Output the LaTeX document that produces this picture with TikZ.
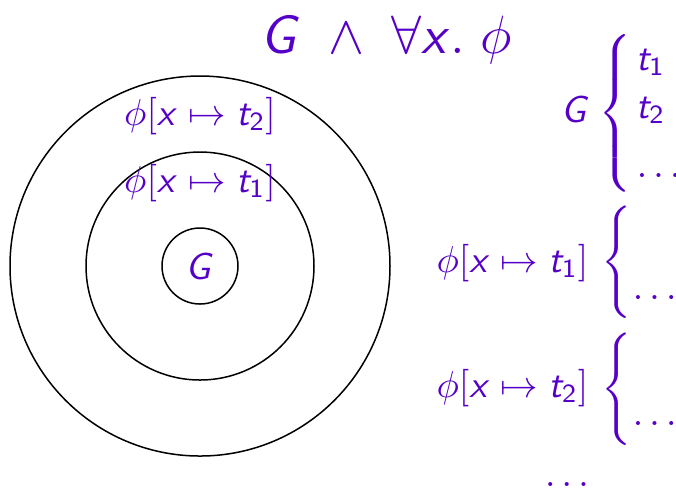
\documentclass[tikz,border=0pt]{standalone}
\usepackage{amsmath}
\DeclareMathAlphabet{\mathsfit}{OT1}{cmss}{m}{sl}
\newcommand{\mG}{\mathsfit{G}}
\newcommand{\mx}{\mathsfit{x}}
\newcommand{\mt}{\mathsfit{t}}
\newcommand{\subst}[1]{\phi\mathsf{[}\mx \mapsto \mt_{\mathsf{#1}}\mathsf{]}}
\newcommand{\bracepiece}[1]{$\left\{\vcenter{\hbox{\rule{0pt}{#1}}}\right.$}
\definecolor{vio}{RGB}{85,0,200}
\tikzset{
  lbl/.style={text=vio, inner sep=0pt, font=\fontsize{10}{12}\selectfont},
  ring/.style={draw=black, line width=0.4pt},
  brc/.style={text=vio, inner sep=0pt}
}
\begin{document}
\begin{tikzpicture}[x=0.26667pt, y=-0.26667pt]
\useasboundingbox (0,0) rectangle (676,488);
% circles
\node[ring, circle, minimum size={380*0.26667pt}, inner sep=0pt] (outer) at (200,266) {};
\node[ring, circle, minimum size={228*0.26667pt}, inner sep=0pt] (middle) at (200,266) {};
\node[ring, circle, minimum size={76*0.26667pt}, inner sep=0pt] (inner) at (200,266) {};
% labels in circles
\node[lbl, anchor=base] (cg) at (200,279) {$\mG$};
\node[lbl, anchor=base] (c1) at (200,192) {$\subst{1}$};
\node[lbl, anchor=base] (c2) at (200,125) {$\subst{2}$};
% title
\node[lbl, anchor=base, font=\fontsize{14.4}{17}\selectfont] (title) at (386,53) {$\mG \;\land\; \forall \mx.\; \phi$};
% right column
\node[lbl, anchor=base east] (rg) at (591,122) {$\mG$};
\node[brc, anchor=center] (b1) at (617,113) {\bracepiece{41pt}};
\node[lbl, anchor=base west] (t1) at (635,70) {$\mt_{\mathsf{1}}$};
\node[lbl, anchor=base west] (t2) at (635,118) {$\mt_{\mathsf{2}}$};
\node[lbl, anchor=base west] (d1) at (636,177) {$\dots$};
\node[lbl, anchor=base east] (r1) at (589,272) {$\subst{1}$};
\node[brc, anchor=center] (b2) at (619,262) {\bracepiece{29pt}};
\node[lbl, anchor=base west] (d2) at (632,299) {$\dots$};
\node[lbl, anchor=base east] (r2) at (589,397) {$\subst{2}$};
\node[brc, anchor=center] (b3) at (619,389) {\bracepiece{29pt}};
\node[lbl, anchor=base west] (d3) at (632,425) {$\dots$};
\node[lbl, anchor=base] (d4) at (570,486) {$\dots$};
\end{tikzpicture}
\end{document}
